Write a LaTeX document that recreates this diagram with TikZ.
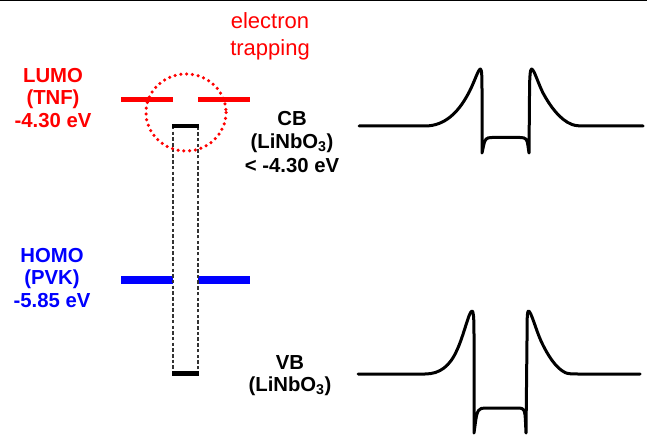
\documentclass[tikz,border=0pt]{standalone}
\usepackage{fontspec}
\setmainfont{Liberation Sans}
\begin{document}
\begin{tikzpicture}[x=1pt,y=-1pt,
  lbl/.style={inner sep=0pt,anchor=north,align=center,font=\fontsize{20.3}{22.5}\selectfont\bfseries},
  curve/.style={line width=3pt,line join=round,line cap=round},
  lumo/.style={red,line width=4.5pt},
  homo/.style={blue,line width=8pt}]
\useasboundingbox (0,0) rectangle (647,438);
\fill[white] (0,0) rectangle (647,438);
\draw[line width=1.2pt] (0,0.6) -- (647,0.6);
% trap text
\node[inner sep=0pt,anchor=north,align=center,red,font=\fontsize{22}{27}\selectfont] (trap) at (270,12) {electron\\trapping};
% labels
\node[lbl,red] (lumo) at (53,68) {LUMO\\(TNF)\\-4.30 eV};
\node[lbl,blue] (homo) at (52,248) {HOMO\\(PVK)\\-5.85 eV};
\node[lbl] (cb) at (292,111.5) {CB\\(LiNbO\textsubscript{3})\\[2pt]{\textless} -4.30 eV};
\node[lbl] (vb) at (290,355) {VB\\(LiNbO\textsubscript{3})};
% energy levels
\draw[lumo] (121,99.5) -- (173,99.5);
\draw[lumo] (198,99.5) -- (250,99.5);
\draw[homo] (121,279.5) -- (173,279.5);
\draw[homo] (198,279.5) -- (250,279.5);
% LiNbO3 box
\draw[gray!40!black,line width=1.1pt,dash pattern=on 3.5pt off 2.2pt] (173,126) rectangle (198,372);
\draw[line width=4.5pt] (172,126) -- (199,126);
\draw[line width=5pt] (172,373) -- (199,373);
% trap circle
\draw[red,line width=3.5pt,line cap=round,dash pattern=on 0pt off 5.8pt] (186,112.5) ellipse [x radius=40,y radius=38.5];
% CB curve
\draw[curve] (359,126) -- (425,126) .. controls (445,126) and (458,112) .. (467,96)
  .. controls (474,84) and (478,69) .. (480.5,69) .. controls (482,69) and (482,80) .. (482,95)
  -- (482,153) -- (483.5,146) .. controls (485,139) and (486,137.5) .. (492,137.5)
  -- (520,137.5) .. controls (526,137.5) and (527,139) .. (528,146)
  -- (529,153) -- (529.5,95) .. controls (529.5,80) and (530,69) .. (531.5,69)
  .. controls (534,69) and (538,83) .. (543,93) .. controls (550,106) and (560,120) .. (572,124.5)
  .. controls (576,126) and (580,126) .. (590,126) -- (643,126);
% VB curve
\draw[curve] (358,374) -- (425,374) .. controls (440,374) and (450,366) .. (457,350)
  .. controls (464,335) and (469,311) .. (472,311) .. controls (474,311) and (474,325) .. (474,340)
  -- (474,433) -- (475.5,422) .. controls (477,410) and (479,408) .. (485,408)
  -- (519,408) .. controls (524,408) and (525,410) .. (525.5,422)
  -- (526,433) -- (527,340) .. controls (527,322) and (527,311) .. (528.5,311)
  .. controls (531,311) and (536,330) .. (541,341) .. controls (548,356) and (556,368) .. (565,372.5)
  .. controls (568,374) and (572,374) .. (580,374) -- (640,374);
\end{tikzpicture}
\end{document}
